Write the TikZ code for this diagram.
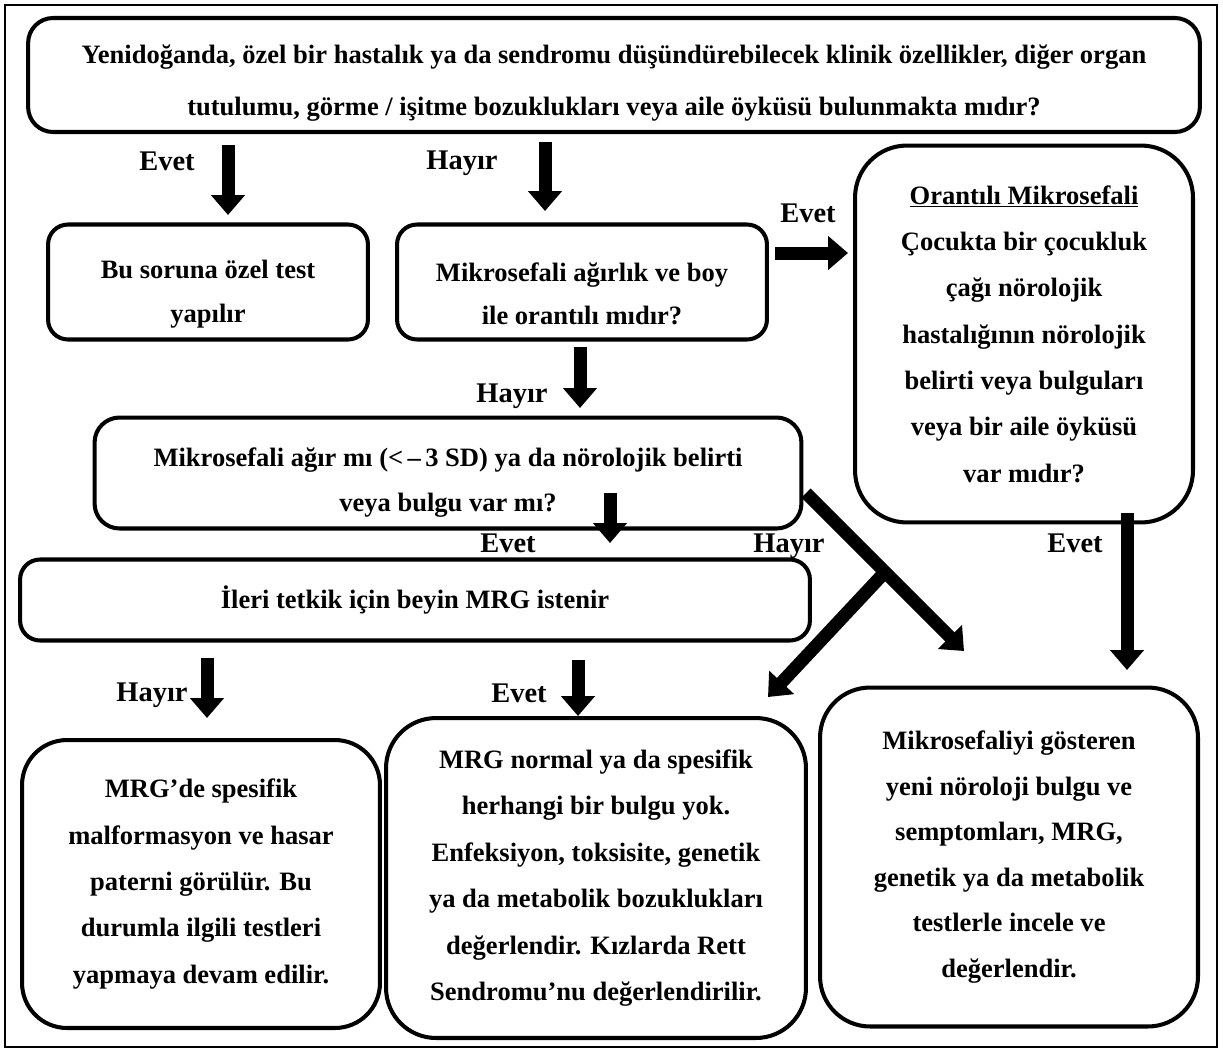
\documentclass[tikz,border=0pt]{standalone}
\usepackage{fontspec}
\setmainfont{Liberation Serif}
\usetikzlibrary{arrows.meta}
\tikzset{
  box/.style={draw, line width=2.3pt, rounded corners=0.4cm, align=center, inner sep=0pt,
    font=\fontsize{15.1pt}{26.4pt}\selectfont\bfseries},
  lbl/.style={inner sep=0pt, font=\fontsize{16.2pt}{19pt}\selectfont\bfseries},
  blk/.style={line width=7.4pt, -{Triangle[length=0.4cm,width=0.66cm]}}
}
\begin{document}
\begin{tikzpicture}[x=0.02cm, y=-0.02cm]
  \fill[white] (0,0) rectangle (1223,1052);
  \draw[line width=1pt] (5,5) rectangle (1217,1047);

  \draw (614,75) node[box, minimum width=23.44cm, minimum height=2.28cm, rounded corners=0.5cm,
    font=\fontsize{15.1pt}{29.5pt}\selectfont\bfseries] (q1)
    {\rule{0pt}{0.69cm}Yenidoğanda, özel bir hastalık ya da sendromu düşündürebilecek klinik özellikler, diğer organ\\
     tutulumu, görme / işitme bozuklukları veya aile öyküsü bulunmakta mıdır?};
  \draw (208,282) node[box, minimum width=6.4cm, minimum height=2.3cm,
    font=\fontsize{15.1pt}{24.9pt}\selectfont\bfseries] (b1)
    {\rule{0pt}{0.86cm}Bu soruna özel test\\ yapılır};
  \draw (582,282) node[box, minimum width=7.4cm, minimum height=2.3cm,
    font=\fontsize{15.1pt}{24.9pt}\selectfont\bfseries] (q2)
    {\rule{0pt}{0.85cm}Mikrosefali ağırlık ve boy\\ ile orantılı mıdır?};
  \draw (1024,334) node[box, minimum width=6.76cm, minimum height=7.54cm, rounded corners=1.04cm] (q3)
    {\underline{Orantılı Mikrosefali}\\ Çocukta bir çocukluk\\ çağı nörolojik\\ hastalığının nörolojik\\
     belirti veya bulguları\\ veya bir aile öyküsü\\ var mıdır?};
  \draw (448,473) node[box, minimum width=14.14cm, minimum height=2.22cm, rounded corners=0.5cm,
    font=\fontsize{15.1pt}{25.5pt}\selectfont\bfseries] (q4)
    {\rule{0pt}{0.77cm}Mikrosefali ağır mı (<\,–\,3 SD) ya da nörolojik belirti\\ veya bulgu var mı?};
  \draw (415,600) node[box, minimum width=15.8cm, minimum height=1.62cm] (b2)
    {İleri tetkik için beyin MRG istenir};
  \draw (201,884) node[box, minimum width=7.16cm, minimum height=5.76cm, rounded corners=0.9cm] (b3)
    {MRG’de spesifik\\ malformasyon ve hasar\\ paterni görülür. Bu\\ durumla ilgili testleri\\ yapmaya devam edilir.};
  \draw (596,878) node[box, minimum width=8.4cm, minimum height=6.4cm, rounded corners=1cm] (b4)
    {MRG normal ya da spesifik\\ herhangi bir bulgu yok.\\ Enfeksiyon, toksisite, genetik\\
     ya da metabolik bozuklukları\\ değerlendir. Kızlarda Rett\\ Sendromu’nu değerlendirilir.};
  \draw (1009,857) node[box, minimum width=7.56cm, minimum height=6.78cm, rounded corners=1cm,
    font=\fontsize{15.1pt}{25.9pt}\selectfont\bfseries] (b5)
    {Mikrosefaliyi gösteren\\ yeni nöroloji bulgu ve\\ semptomları, MRG,\\ genetik ya da metabolik\\
     testlerle incele ve\\ değerlendir.};

  \draw (167,161) node[lbl] (e1) {Evet};
  \draw (462,163) node[lbl] (h1) {Hayır};
  \draw (808,213) node[lbl] (e2) {Evet};
  \draw (512,396) node[lbl] (h2) {Hayır};
  \draw (508,543) node[lbl] (e3) {Evet};
  \draw (789,546) node[lbl] (h3) {Hayır};
  \draw (1075,543) node[lbl] (e4) {Evet};
  \draw (152,695) node[lbl] (h4) {Hayır};
  \draw (519,693) node[lbl] (e5) {Evet};

  \coordinate (a1s) at (228,145);  \coordinate (a1e) at (228,215);
  \coordinate (a2s) at (545,142);  \coordinate (a2e) at (545,211);
  \coordinate (a3s) at (775,253);  \coordinate (a3e) at (848,253);
  \coordinate (a4s) at (580,347);  \coordinate (a4e) at (580,408);
  \coordinate (a5s) at (610,493);  \coordinate (a5e) at (610,543);
  \coordinate (a6s) at (1127,513); \coordinate (a6e) at (1127,670);
  \coordinate (a7s) at (207,658);  \coordinate (a7e) at (207,718);
  \coordinate (a8s) at (578,660);  \coordinate (a8e) at (578,716);
  \coordinate (d1s) at (806,493);  \coordinate (d1e) at (964,651);
  \coordinate (jn) at (885,572);   \coordinate (d2e) at (768,697);

  \draw[blk] (a1s) -- (a1e);
  \draw[blk] (a2s) -- (a2e);
  \draw[blk] (a3s) -- (a3e);
  \draw[blk] (a4s) -- (a4e);
  \draw[blk] (a5s) -- (a5e);
  \draw[blk] (a6s) -- (a6e);
  \draw[blk] (a7s) -- (a7e);
  \draw[blk] (a8s) -- (a8e);
  \draw[blk] (d1s) -- (d1e);
  \draw[blk] (jn) -- (d2e);
\end{tikzpicture}
\end{document}
